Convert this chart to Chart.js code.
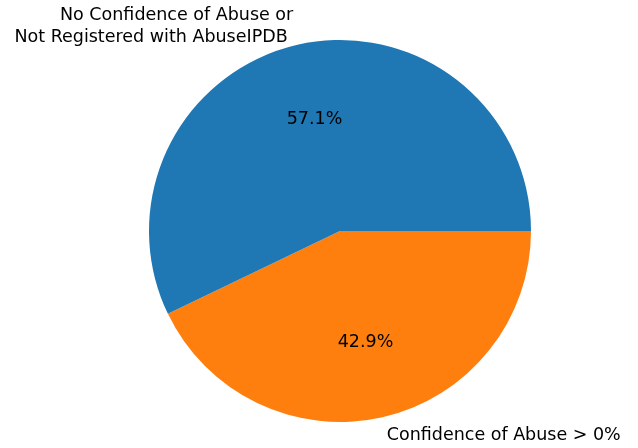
<!DOCTYPE html>
<html>
<head>
<meta charset="utf-8">
<script src="https://cdn.jsdelivr.net/npm/chart.js@4.4.0/dist/chart.umd.min.js"></script>
<style>
  html, body { margin: 0; padding: 0; background: #ffffff; }
  #wrap { width: 638px; height: 448px; }
</style>
</head>
<body>
<div id="wrap"><canvas id="pieChart" width="638" height="448"></canvas></div>
<script>
// 数据 (Chart.js 顺时针绘制, 所以橙色在前)
const labels = [
    ['Confidence of Abuse > 0%'],
    ['No Confidence of Abuse or', 'Not Registered with AbuseIPDB ']
];
const counts = [3, 4];
const colors = ['#ff7f0e', '#1f77b4'];

const FONT = "17.5px 'DejaVu Sans', sans-serif";

// 画外部标签和百分比, 类似 matplotlib 的 autopct
const pieLabels = {
    id: 'pieLabels',
    afterDatasetsDraw(chart) {
        const ctx = chart.ctx;
        const meta = chart.getDatasetMeta(0);
        const total = counts.reduce((a, b) => a + b, 0);
        ctx.save();
        ctx.font = FONT;
        ctx.fillStyle = '#000000';
        const lineH = 22;
        meta.data.forEach((arc, i) => {
            const mid = (arc.startAngle + arc.endAngle) / 2;
            const r = arc.outerRadius;
            const c = Math.cos(mid), s = Math.sin(mid);

            // 百分比
            ctx.textAlign = 'center';
            ctx.textBaseline = 'middle';
            const pct = (counts[i] / total * 100).toFixed(1) + '%';
            ctx.fillText(pct, arc.x + 0.6 * r * c, arc.y + 0.6 * r * s);

            // 外部标签
            const lx = arc.x + 1.1 * r * c;
            const ly = arc.y + 1.1 * r * s;
            ctx.textAlign = c > 0 ? 'left' : 'right';
            const lines = labels[i];
            const top = ly - (lines.length - 1) * lineH / 2;
            lines.forEach((t, k) => ctx.fillText(t, lx, top + k * lineH));
        });
        ctx.restore();
    }
};

new Chart(document.getElementById('pieChart'), {
    type: 'pie',
    data: {
        labels: labels,
        datasets: [{
            data: counts,
            backgroundColor: colors,
            borderWidth: 0
        }]
    },
    options: {
        responsive: false,
        animation: false,
        rotation: 90, // 从右边 (3点钟) 开始
        layout: {
            padding: { left: 149, right: 107, top: 40, bottom: 26 }
        },
        plugins: {
            legend: { display: false },
            tooltip: { enabled: false }
        }
    },
    plugins: [pieLabels]
});
</script>
</body>
</html>
